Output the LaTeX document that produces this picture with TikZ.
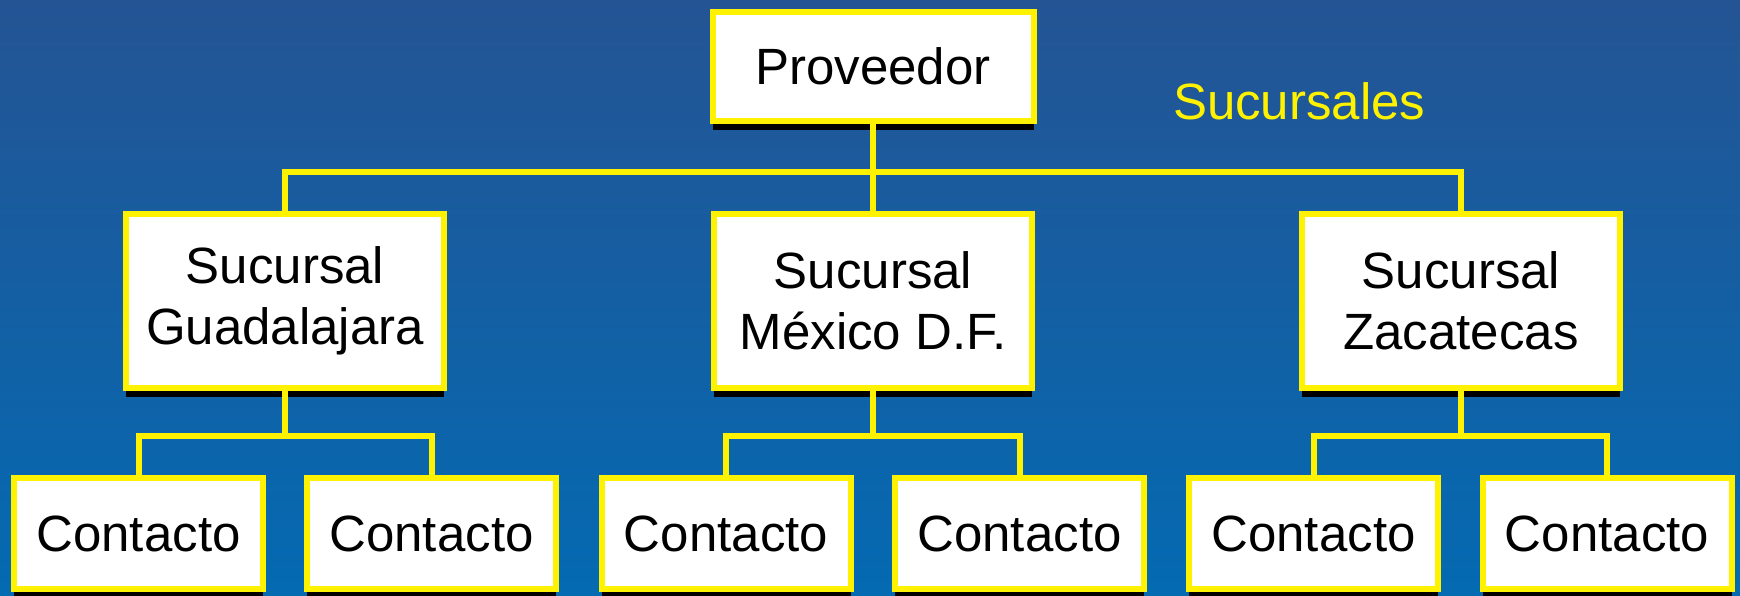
\documentclass[tikz,border=0pt]{standalone}
\usepackage{fontspec}
\setmainfont{Liberation Sans}
\usetikzlibrary{positioning,shadows}

\definecolor{fondoarriba}{RGB}{36,84,148}
\definecolor{fondomedio}{RGB}{20,100,170}
\definecolor{fondoabajo}{RGB}{4,106,178}

\begin{document}
\begin{tikzpicture}[x=0.5pt, y=-0.5pt, font=\fontsize{25.5}{30.5}\selectfont,
    box/.style={draw=yellow, fill=white, line width=3pt, align=center, inner sep=0pt,
      drop shadow={shadow xshift=0pt, shadow yshift=-4.5pt, fill=black, opacity=1}},
    sucursal/.style={box, minimum width=159pt, minimum height=87pt},
    contacto/.style={box, minimum width=124.5pt, minimum height=55.5pt},
    link/.style={draw=yellow, line width=3pt}]
		\useasboundingbox (0,0) rectangle (1740,595);
		\shade[top color=fondoarriba, middle color=fondomedio, bottom color=fondoabajo] (0,0) rectangle (1740,595);
		% proveedor y sucursales
		\node (prov) at (873,66.5) [box, minimum width=160.5pt, minimum height=54.5pt] {Proveedor};
		\node (gdl) at (285,301) [sucursal] {Sucursal\\Guadalajara};
		\node (mex) at (873,301) [sucursal] {Sucursal\\México D.F.};
		\node (zac) at (1461,301) [sucursal] {Sucursal\\Zacatecas};
		\node (etiq) at (1166,119) [anchor=base west, text=yellow] {Sucursales};
		% contactos
		\node (c1) at (138.5,533.5) [contacto] {Contacto};
		\node (c2) at (431.5,533.5) [contacto] {Contacto};
		\node (c3) at (726,533.5) [contacto] {Contacto};
		\node (c4) at (1019.5,533.5) [contacto] {Contacto};
		\node (c5) at (1313.5,533.5) [contacto] {Contacto};
		\node (c6) at (1607,533.5) [contacto] {Contacto};
		\coordinate (bus) at (873,172);
		\coordinate (gdlbus) at (285,436);
		\coordinate (mexbus) at (873,436);
		\coordinate (zacbus) at (1461,436);
		\draw[link] (prov) -- (mex);
		\draw[link] (gdl.north) |- (bus) -| (zac.north);
		\draw[link] (gdl) -- (gdlbus);
		\draw[link] (c1.north) |- (gdlbus) -| (c2.north);
		\draw[link] (mex) -- (mexbus);
		\draw[link] (c3.north) |- (mexbus) -| (c4.north);
		\draw[link] (zac) -- (zacbus);
		\draw[link] (c5.north) |- (zacbus) -| (c6.north);
\end{tikzpicture}
\end{document}
